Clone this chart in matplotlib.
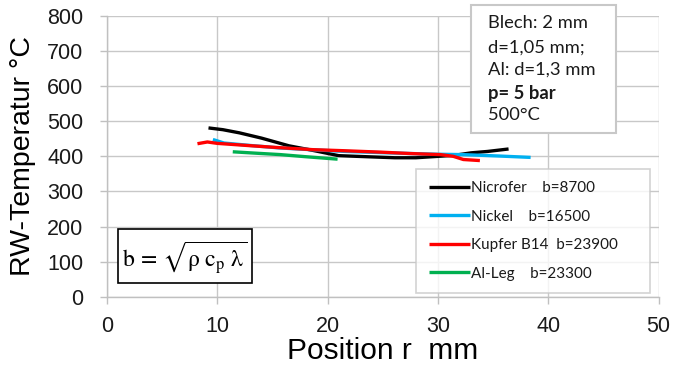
import matplotlib
matplotlib.use("Agg")
import matplotlib.pyplot as plt
from matplotlib.patches import Rectangle

# temperature profiles
nicrofer_x = [9.2, 10.5, 12.0, 14.0, 16.5, 18.5, 21.0, 23.5, 26.1, 28.0, 30.0, 31.5, 33.0, 34.5, 36.4]
nicrofer_y = [481, 476, 467, 452, 430, 418, 402, 399, 396, 396, 400, 403, 410, 414, 421]
nickel_x = [9.6, 10.6, 13.0, 15.6, 18.5, 21.6, 24.5, 27.6, 30.0, 32.2, 35.5, 38.4]
nickel_y = [448, 438, 431, 424, 419, 414, 411, 408, 406, 405, 401, 397]
kupfer_x = [8.2, 9.1, 10.0, 12.7, 15.5, 18.7, 21.5, 24.8, 27.5, 30.2, 31.4, 32.3, 33.8]
kupfer_y = [436, 441, 437, 431, 425, 419, 416, 412, 408, 405, 400, 391, 388]
alleg_x = [11.4, 13.5, 15.7, 18.0, 20.9]
alleg_y = [413, 409, 405, 399, 392]

labels = ["Nicrofer    b=8700", "Nickel    b=16500",
          "Kupfer B14  b=23900", "Al-Leg    b=23300"]
colors = ["#000000", "#00b0f0", "#ff0000", "#00b050"]

info_lines = ["Blech: 2 mm", "d=1,05 mm;", "Al: d=1,3 mm", "p= 5 bar", "500°C"]

plt.rcParams["font.family"] = ["Liberation Sans", "DejaVu Sans"]
fig = plt.figure(figsize=(6.73, 3.65), dpi=100)
ax = fig.add_axes([107 / 673, 1 - 296.7 / 365, 551.6 / 673, 280.7 / 365])

series = [(nicrofer_x, nicrofer_y), (nickel_x, nickel_y),
          (kupfer_x, kupfer_y), (alleg_x, alleg_y)]
for (x, y), lab, c in zip(series, labels, colors):
    ax.plot(x, y, color=c, lw=2.4, label=lab, solid_capstyle="butt")

ax.set_xlim(0, 50)
ax.set_ylim(0, 800)
ax.set_xticks(range(0, 51, 10))
ax.set_yticks(range(0, 801, 100))
ax.grid(True, color="#c8c8c8", lw=1.0)
ax.set_axisbelow(True)
for s in ["top", "right"]:
    ax.spines[s].set_visible(False)
for s in ["left", "bottom"]:
    ax.spines[s].set_color("#c0c0c0")
    ax.spines[s].set_linewidth(1.0)
ax.tick_params(axis="both", colors="#c0c0c0", labelcolor="#1a1a1a",
               labelsize=15.5, length=5, width=1.0)
ax.tick_params(axis="y", pad=12)
ax.tick_params(axis="x", pad=9)
ax.set_xlabel("Position r  mm", fontsize=21.5, labelpad=0)
ax.set_ylabel("RW-Temperatur °C", fontsize=20.5, labelpad=8)

leg = ax.legend(loc="lower left", bbox_to_anchor=(0.561, 0.014, 0.424, 0.437),
                mode="expand", fontsize=11, frameon=True, fancybox=False,
                handlelength=2.7, handletextpad=0.1, labelspacing=0.95,
                borderpad=0.8, borderaxespad=0)
leg.get_frame().set_edgecolor("#c8c8c8")
leg.get_frame().set_linewidth(1.2)
for t in leg.get_texts():
    t.set_family(["Lato", "DejaVu Sans"])
    t.set_color("#1a1a1a")

# info box top right
ax.add_patch(Rectangle((33.0, 466), 13.1, 365, facecolor="white",
                       edgecolor="#c8c8c8", lw=1.5, clip_on=False, zorder=5))
for i, (line, yy) in enumerate(zip(info_lines, [780, 711, 646, 580, 518])):
    ax.text(34.5, yy, line, fontsize=13.2, va="center", ha="left",
            family=["Lato", "DejaVu Sans"], color="#1a1a1a",
            fontweight="bold" if i == 3 else "normal", zorder=6, clip_on=False)

# formula box
ax.add_patch(Rectangle((0.96, 38), 12.14, 154, facecolor="white",
                       edgecolor="black", lw=1.2, zorder=5))
ax.text(7.0, 108, r"$\mathrm{b}\,=\,\sqrt{\mathrm{\rho}\ \mathrm{c}_\mathrm{p}\ \mathrm{\lambda}}$",
        fontsize=17, ha="center", va="center", math_fontfamily="stix", zorder=6)

fig.savefig("out.png", dpi=100)
